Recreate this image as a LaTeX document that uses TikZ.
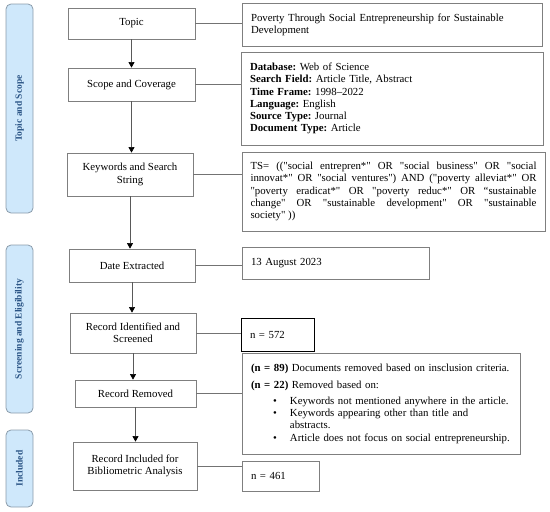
\documentclass[tikz,border=0pt]{standalone}
\usepackage{fontspec}
\setmainfont{Liberation Serif}[Ligatures=TeXOff]
\usetikzlibrary{arrows.meta}
\hyphenpenalty=10000
\exhyphenpenalty=10000
\frenchspacing
\definecolor{barfill}{HTML}{CFE8FB}
\definecolor{bardraw}{HTML}{8A9BAA}
\definecolor{bartext}{HTML}{2A5485}
\definecolor{boxdraw}{HTML}{7F7F7F}
\newcommand\bulletmark{\hspace*{22pt}\makebox[17pt][l]{\textbullet}}
\begin{document}
\begin{tikzpicture}[x=1pt,y=1pt,font=\fontsize{10.8}{12.2}\selectfont\frenchspacing,
  bar/.style={draw=bardraw,fill=barfill,rounded corners=5pt,rotate=90,minimum height=27pt,inner sep=0pt,
    font=\fontsize{9.5}{11}\selectfont\bfseries,text=bartext,line width=0.8pt},
  lbox/.style={draw=boxdraw,line width=0.8pt,align=center,inner sep=2pt},
  rbox/.style={draw=boxdraw,line width=0.8pt,align=left,inner xsep=9pt,inner ysep=0pt},
  conn/.style={draw=black!55,line width=0.6pt},
  arr/.style={draw=black!65,line width=0.6pt,-{Triangle[length=5.5pt,width=6pt,color=black]}}]
\useasboundingbox (0,0) rectangle (550,-512);
% side bars
\node[bar,minimum width=209pt] (b1) at (19.5,-108.5) {Topic and Scope};
\node[bar,minimum width=168pt] (b2) at (19.5,-329) {Screening and Eligibility};
\node[bar,minimum width=77pt] (b3) at (19.5,-468.5) {Included};
% left boxes
\node[lbox,minimum width=127pt,minimum height=31pt] (topic) at (131.5,-23.5) {Topic};
\node[lbox,minimum width=127pt,minimum height=33pt] (scope) at (131.5,-84.5) {Scope and Coverage};
\node[lbox,minimum width=126pt,minimum height=43pt] (kw) at (130,-174.5) {Keywords and Search\\String};
\node[lbox,minimum width=126pt,minimum height=33pt] (date) at (132,-265.5) {Date Extracted};
\node[lbox,minimum width=126pt,minimum height=40pt] (recid) at (133,-333) {Record Identified and\\Screened};
\node[lbox,minimum width=121pt,minimum height=27pt] (recrem) at (135.5,-393.5) {Record Removed};
\node[lbox,minimum width=124pt,minimum height=48pt] (recinc) at (135,-466) {Record Included for\\Bibliometric Analysis};
% right boxes
\node[rbox,text width=282pt,minimum height=43pt] (r1) at (392,-24.5)
  {Poverty Through Social Entrepreneurship for Sustainable\\Development};
\node[rbox,text width=284pt,minimum height=93pt] (r2) at (392,-98.5)
  {\textbf{Database:} Web of Science\\
   \textbf{Search Field:} Article Title, Abstract\\
   \textbf{Time Frame:} 1998–2022\\
   \textbf{Language:} English\\
   \textbf{Source Type:} Journal\\
   \textbf{Document Type:} Article};
\node[rbox,align=justify,inner xsep=8.5pt,text width=286pt,minimum height=79pt] (r3) at (393.5,-191.5)
  {TS= (("social entrepren*" OR "social business" OR "social\linebreak
   innovat*" OR "social ventures") AND ("poverty alleviat*" OR\linebreak
   "poverty eradicat*" OR "poverty reduc*" OR “sustainable\linebreak
   change" OR "sustainable development" OR "sustainable\linebreak
   society" ))};
\node[rbox,text width=169pt,minimum height=32pt] (r4) at (335.5,-263) {13 August 2023};
\node[rbox,draw=black,line width=1pt,text width=55pt,minimum height=33pt] (r5) at (277.5,-334.5) {n = 572};
\node[rbox,text width=260pt,minimum height=101pt] (r6) at (381,-403.5)
  {\textbf{(n = 89)} Documents removed based on insclusion criteria.\\[5.5pt]
   \textbf{(n = 22)} Removed based on:\\[3.5pt]
   \bulletmark Keywords not mentioned anywhere in the article.\\
   \bulletmark Keywords appearing other than title and\\
   \hspace*{39pt}abstracts.\\
   \bulletmark Article does not focus on social entrepreneurship.};
\node[rbox,text width=59pt,minimum height=30pt] (r7) at (280.5,-476) {n = 461};
% connectors
\foreach \a/\b in {topic/r1,scope/r2,kw/r3,date/r4,recid/r5,recrem/r6,recinc/r7}
  \draw[conn] (\a.east) -- (\a.east -| \b.west);
% arrows
\foreach \a/\b in {topic/scope,scope/kw,kw/date,date/recid,recid/recrem,recrem/recinc}
  \draw[arr] (\a.south) -- (\a.south |- \b.north);
\end{tikzpicture}
\end{document}
